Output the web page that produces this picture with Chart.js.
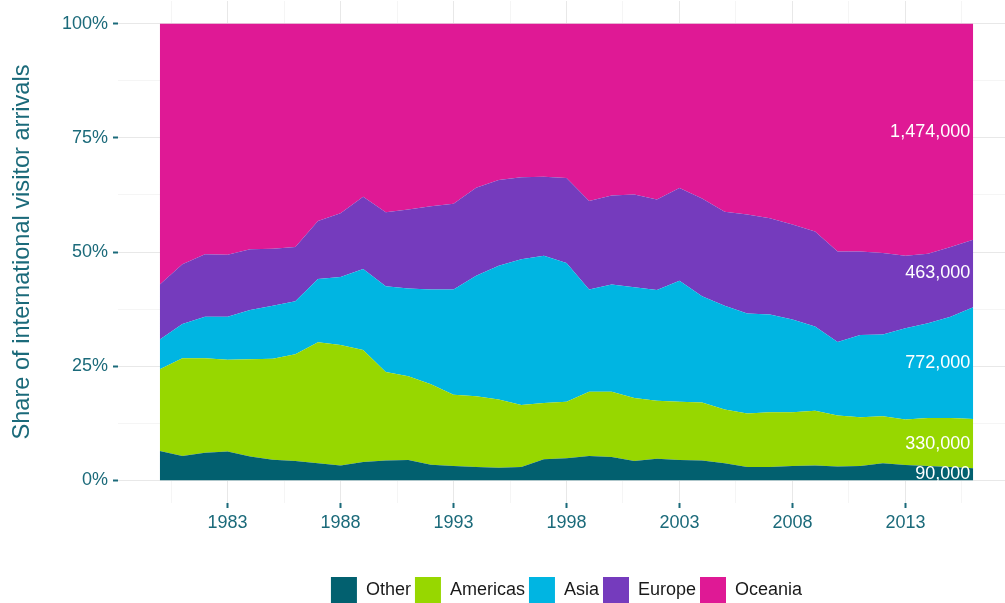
<!DOCTYPE html>
<html>
<head>
<meta charset="utf-8">
<title>Share of international visitor arrivals</title>
<script src="https://cdn.jsdelivr.net/npm/chart.js@4.4.0/dist/chart.umd.min.js"></script>
<style>
  html, body { margin: 0; background: #fff; overflow: hidden; }
  canvas { display: block; }
</style>
</head>
<body>
<!-- the panel runs a little past the right edge of the page, as in the original -->
<canvas id="chart" width="1015" height="603"></canvas>
<script>
// share of arrivals (%) by region of origin, year ended December
const years = [1980, 1981, 1982, 1983, 1984, 1985, 1986, 1987, 1988, 1989,
    1990, 1991, 1992, 1993, 1994, 1995, 1996, 1997, 1998, 1999,
    2000, 2001, 2002, 2003, 2004, 2005, 2006, 2007, 2008, 2009,
    2010, 2011, 2012, 2013, 2014, 2015, 2016];

const other = [6.4, 5.3, 6.0, 6.3, 5.2, 4.5, 4.2, 3.7, 3.2, 4.0,
    4.3, 4.4, 3.4, 3.1, 2.9, 2.7, 2.9, 4.6, 4.8, 5.3,
    5.1, 4.2, 4.7, 4.4, 4.3, 3.7, 2.9, 2.9, 3.1, 3.2,
    3.0, 3.1, 3.7, 3.3, 3.1, 2.9, 2.6];
const americas = [17.9, 21.4, 20.7, 20.1, 21.3, 22.1, 23.4, 26.5, 26.4, 24.5,
    19.4, 18.4, 17.6, 15.6, 15.5, 15.0, 13.6, 12.3, 12.4, 14.1,
    14.3, 13.8, 12.7, 12.8, 12.7, 11.8, 11.7, 12.0, 11.8, 12.0,
    11.2, 10.7, 10.3, 10.0, 10.5, 10.7, 10.8];
const asia = [6.5, 7.5, 9.1, 9.4, 10.8, 11.6, 11.6, 13.9, 14.9, 17.8,
    18.8, 19.2, 20.8, 23.1, 26.4, 29.3, 31.9, 32.3, 30.4, 22.4,
    23.5, 24.3, 24.3, 26.5, 23.3, 22.7, 21.9, 21.4, 20.3, 18.5,
    16.1, 18.0, 17.9, 20.0, 20.8, 22.2, 24.5];
const europe = [12.1, 13.1, 13.7, 13.6, 13.3, 12.5, 11.9, 12.7, 14.0, 15.8,
    16.2, 17.3, 18.2, 18.8, 19.3, 18.8, 18.0, 17.3, 18.6, 19.4,
    19.5, 20.3, 19.8, 20.3, 21.4, 20.6, 21.7, 21.1, 20.8, 20.8,
    19.8, 18.3, 17.9, 15.9, 15.2, 15.3, 14.8];
const oceania = [57.1, 52.7, 50.5, 50.6, 49.4, 49.3, 48.9, 43.2, 41.5, 37.9,
    41.3, 40.7, 40.0, 39.4, 35.9, 34.2, 33.6, 33.5, 33.8, 38.8,
    37.6, 37.4, 38.5, 36.0, 38.3, 41.2, 41.8, 42.6, 44.0, 45.5,
    49.9, 49.9, 50.2, 50.8, 50.4, 48.9, 47.3];

const regions = ['Other', 'Americas', 'Asia', 'Europe', 'Oceania'];
const lastYearCounts = [90000, 330000, 772000, 463000, 1474000];

const xTickYears = [1983, 1988, 1993, 1998, 2003, 2008, 2013];
const yTickValues = [0, 25, 50, 75, 100];

const seriesList = [other, americas, asia, europe, oceania];
const colors = ['#02606f', '#97d700', '#00b5e2', '#753bbd', '#df1995'];
const axisText = '#1b6a7a';
const fontFamily = '"Liberation Sans", Arial, sans-serif';

// major ticks plus a minor gridline halfway between them
function gridTicks(major, min, max) {
    const step = major[1] - major[0];
    const ticks = [];
    for (let v = major[0] - step; v <= max; v += step / 2) {
        if (v >= min) ticks.push({ value: v, isMain: major.includes(v) });
    }
    return ticks;
}

function formatCount(n) {
    return String(n).replace(/\B(?=(\d{3})+(?!\d))/g, ',');
}

const endLabels = {
    id: 'endLabels',
    afterDatasetsDraw(chart) {
        const ctx = chart.ctx;
        const last = years.length - 1;
        const x = chart.scales.x.getPixelForValue(years[last]) - 3;
        let base = 0;
        ctx.save();
        ctx.font = '18px ' + fontFamily;
        ctx.fillStyle = '#ffffff';
        ctx.textAlign = 'right';
        ctx.textBaseline = 'middle';
        seriesList.forEach(function(series, i) {
            const share = series[last];
            const y = chart.scales.y.getPixelForValue(base + share / 2);
            ctx.fillText(formatCount(lastYearCounts[i]), x, y);
            base += share;
        });
        ctx.restore();
    }
};

const datasets = regions.map(function(name, i) {
    return {
        label: name,
        data: years.map(function(yr, j) { return { x: yr, y: seriesList[i][j] }; }),
        backgroundColor: colors[i],
        borderColor: colors[i],
        borderWidth: 0,
        pointRadius: 0,
        tension: 0,
        fill: i === 0 ? 'origin' : '-1'
    };
});

const gridColor = function(c) {
    return c.tick && c.tick.isMain ? '#e8e8e8' : '#f5f5f5';
};
const tickMarkColor = function(c) {
    return c.tick && c.tick.isMain ? axisText : 'rgba(0,0,0,0)';
};

new Chart(document.getElementById('chart').getContext('2d'), {
    type: 'line',
    data: { datasets: datasets },
    options: {
        responsive: false,
        devicePixelRatio: 1,
        animation: false,
        layout: { padding: { top: 1, right: 0, bottom: -10, left: 0 } },
        plugins: {
            tooltip: { enabled: false },
            legend: {
                position: 'bottom',
                fullSize: false,
                labels: {
                    boxWidth: 26,
                    boxHeight: 26,
                    padding: 4,
                    color: '#1a1a1a',
                    font: { size: 18, family: fontFamily }
                }
            }
        },
        scales: {
            x: {
                type: 'linear',
                min: 1978.15,
                max: 2017.85,
                afterBuildTicks: function(scale) {
                    scale.ticks = gridTicks(xTickYears, scale.min, scale.max);
                },
                afterFit: function(scale) {
                    scale.height = 70;
                    scale.paddingLeft = 0;
                    scale.paddingRight = 0;
                },
                border: { display: false },
                grid: {
                    color: gridColor,
                    lineWidth: 1,
                    tickLength: 5,
                    tickColor: tickMarkColor,
                    tickWidth: 2
                },
                ticks: {
                    autoSkip: false,
                    maxRotation: 0,
                    padding: 4,
                    color: axisText,
                    font: { size: 18, family: fontFamily },
                    callback: function(value, index, ticks) {
                        return ticks[index].isMain ? String(value) : '';
                    }
                }
            },
            y: {
                stacked: true,
                min: -5,
                max: 105,
                afterBuildTicks: function(scale) {
                    scale.ticks = gridTicks(yTickValues, scale.min, scale.max);
                },
                afterFit: function(scale) {
                    scale.width = 118;
                    scale.paddingTop = 0;
                    scale.paddingBottom = 0;
                },
                border: { display: false },
                grid: {
                    color: gridColor,
                    lineWidth: 1,
                    tickLength: 5,
                    tickColor: tickMarkColor,
                    tickWidth: 2
                },
                ticks: {
                    padding: 5,
                    color: axisText,
                    font: { size: 18, family: fontFamily },
                    callback: function(value, index, ticks) {
                        return ticks[index].isMain ? value + '%' : '';
                    }
                },
                title: {
                    display: true,
                    text: 'Share of international visitor arrivals',
                    color: axisText,
                    font: { size: 23.6, family: fontFamily },
                    padding: { top: 8, bottom: 0 }
                }
            }
        }
    },
    plugins: [endLabels]
});
</script>
</body>
</html>
